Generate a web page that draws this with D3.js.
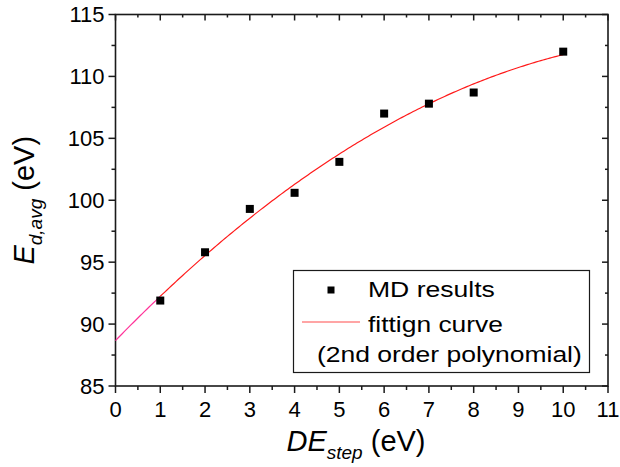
<!DOCTYPE html>
<html>
<head>
<meta charset="utf-8">
<script src="https://cdn.jsdelivr.net/npm/d3@7"></script>
<style>
  body { margin: 0; background: #fff; }
  svg text { font-family: "Liberation Sans", Arial, sans-serif; fill: #000; }
</style>
</head>
<body>
<div id="chart"></div>
<script>
// Data
const deStep = [1, 2, 3, 4, 5, 6, 7, 8, 10]
const edAvg = [91.9, 95.8, 99.3, 100.6, 103.1, 107.0, 107.8, 108.7, 112.0]
const xTicks = [0, 1, 2, 3, 4, 5, 6, 7, 8, 9, 10, 11]
const yTicks = [85, 90, 95, 100, 105, 110, 115]
const legendLabels = ['MD results', 'fittign curve', '(2nd order polynomial)']

// Initialization
const width = 620
const height = 467
const margin = { left: 115.5, right: 12, top: 14.5, bottom: 81 }

const svg = d3.select('#chart').append('svg')
  .attr('width', width)
  .attr('height', height)

const x = d3.scaleLinear().domain([0, 11]).range([margin.left, width - margin.right])
const y = d3.scaleLinear().domain([85, 115]).range([height - margin.bottom, margin.top])

// 2nd order polynomial least squares fit of the MD results
function polyFit(xs, ys) {
  const s = [0, 0, 0, 0, 0]
  const t = [0, 0, 0]
  xs.forEach((xv, i) => {
    for (let k = 0; k < 5; k++) s[k] += Math.pow(xv, k)
    for (let k = 0; k < 3; k++) t[k] += ys[i] * Math.pow(xv, k)
  })
  const m = [
    [s[0], s[1], s[2], t[0]],
    [s[1], s[2], s[3], t[1]],
    [s[2], s[3], s[4], t[2]]
  ]
  for (let i = 0; i < 3; i++) {
    for (let j = i + 1; j < 3; j++) {
      const f = m[j][i] / m[i][i]
      for (let k = i; k < 4; k++) m[j][k] -= f * m[i][k]
    }
  }
  const c = [0, 0, 0]
  for (let i = 2; i >= 0; i--) {
    let v = m[i][3]
    for (let k = i + 1; k < 3; k++) v -= m[i][k] * c[k]
    c[i] = v / m[i][i]
  }
  return c
}
const coef = polyFit(deStep, edAvg)
const fit = xv => coef[0] + coef[1] * xv + coef[2] * xv * xv

// Axes
const x0 = x.range()[0], x1 = x.range()[1]
const y0 = y.range()[0], y1 = y.range()[1]
const xMinor = d3.range(0.5, 11, 1)
const yMinor = d3.range(87.5, 115, 5)

const axisColor = '#1a1a1a'
const ticks = svg.append('g').attr('stroke', axisColor).attr('stroke-width', 1.5)

// bottom (outward) and top (inward)
xTicks.forEach(v => {
  ticks.append('line').attr('x1', x(v)).attr('x2', x(v)).attr('y1', y0).attr('y2', y0 + 7)
  ticks.append('line').attr('x1', x(v)).attr('x2', x(v)).attr('y1', y1).attr('y2', y1 + 6)
})
xMinor.forEach(v => {
  ticks.append('line').attr('x1', x(v)).attr('x2', x(v)).attr('y1', y0).attr('y2', y0 + 4)
  ticks.append('line').attr('x1', x(v)).attr('x2', x(v)).attr('y1', y1).attr('y2', y1 + 3)
})
// left (outward) and right (inward)
yTicks.forEach(v => {
  ticks.append('line').attr('y1', y(v)).attr('y2', y(v)).attr('x1', x0).attr('x2', x0 - 7)
  ticks.append('line').attr('y1', y(v)).attr('y2', y(v)).attr('x1', x1).attr('x2', x1 - 6)
})
yMinor.forEach(v => {
  ticks.append('line').attr('y1', y(v)).attr('y2', y(v)).attr('x1', x0).attr('x2', x0 - 4)
  ticks.append('line').attr('y1', y(v)).attr('y2', y(v)).attr('x1', x1).attr('x2', x1 - 3)
})

svg.append('rect')
  .attr('x', x0).attr('y', y1)
  .attr('width', x1 - x0).attr('height', y0 - y1)
  .attr('fill', 'none')
  .attr('stroke', axisColor)
  .attr('stroke-width', 1.6)

// Tick labels
svg.append('g').selectAll('text')
  .data(xTicks).enter().append('text')
  .attr('x', d => x(d))
  .attr('y', y0 + 31)
  .attr('text-anchor', 'middle')
  .style('font-size', '22px')
  .text(d => d)

svg.append('g').selectAll('text')
  .data(yTicks).enter().append('text')
  .attr('x', x0 - 11)
  .attr('y', d => y(d))
  .attr('dy', '0.36em')
  .attr('text-anchor', 'end')
  .style('font-size', '22px')
  .text(d => d)

// Axis titles
const xTitle = svg.append('text')
  .attr('x', 356)
  .attr('y', 451)
  .attr('text-anchor', 'middle')
  .style('font-size', '29px')
xTitle.append('tspan').style('font-style', 'italic').text('DE')
xTitle.append('tspan').style('font-style', 'italic').style('font-size', '19px').attr('dy', 8).text('step')
xTitle.append('tspan').attr('dy', -8).text(' (eV)')

const yTitle = svg.append('text')
  .attr('transform', `translate(34,${(y0 + y1) / 2}) rotate(-90)`)
  .attr('text-anchor', 'middle')
  .style('font-size', '29px')
yTitle.append('tspan').style('font-style', 'italic').text('E')
yTitle.append('tspan').style('font-style', 'italic').style('font-size', '19px').attr('dy', 8).text('d,avg')
yTitle.append('tspan').attr('dy', -8).text(' (eV)')

// Fitting curve: extrapolated part and fitted range
const line = d3.line().x(d => x(d)).y(d => y(fit(d)))
svg.append('path')
  .attr('d', line(d3.range(0, 1.0001, 0.05)))
  .attr('fill', 'none')
  .attr('stroke', '#ff3399')
  .attr('stroke-width', 1.2)
svg.append('path')
  .attr('d', line(d3.range(1, 10.0001, 0.05)))
  .attr('fill', 'none')
  .attr('stroke', '#ff1a1a')
  .attr('stroke-width', 1.2)

// MD results
const markerSize = 8
svg.append('g').selectAll('rect')
  .data(deStep).enter().append('rect')
  .attr('x', d => x(d) - markerSize / 2)
  .attr('y', (d, i) => y(edAvg[i]) - markerSize / 2)
  .attr('width', markerSize)
  .attr('height', markerSize)
  .attr('fill', '#000')

// Legend
const legend = svg.append('g')
legend.append('rect')
  .attr('x', 293.5).attr('y', 270.5)
  .attr('width', 296).attr('height', 102)
  .attr('fill', '#fff')
  .attr('stroke', '#1a1a1a')
  .attr('stroke-width', 1.2)
legend.append('rect')
  .attr('x', 331 - 3.5).attr('y', 290 - 3.5)
  .attr('width', 7).attr('height', 7)
  .attr('fill', '#000')
legend.append('line')
  .attr('x1', 302).attr('x2', 360)
  .attr('y1', 322).attr('y2', 322)
  .attr('stroke', '#ff4d4d')
  .attr('stroke-width', 1.2)

const legendText = [
  { x: 368, y: 297, len: 127 },
  { x: 368, y: 331.5, len: 135 },
  { x: 317, y: 362, len: 265 }
]
// glyphs in the legend are drawn wider than tall, so stretch them
legend.selectAll('text.legend-label')
  .data(legendLabels).enter().append('text')
  .attr('class', 'legend-label')
  .style('font-size', '22px')
  .text(d => d)
  .each(function (d, i) {
    const t = legendText[i]
    const natural = this.getComputedTextLength()
    const k = t.len / natural
    d3.select(this).attr('transform', `translate(${t.x},${t.y}) scale(${k},1)`)
  })
</script>
</body>
</html>
